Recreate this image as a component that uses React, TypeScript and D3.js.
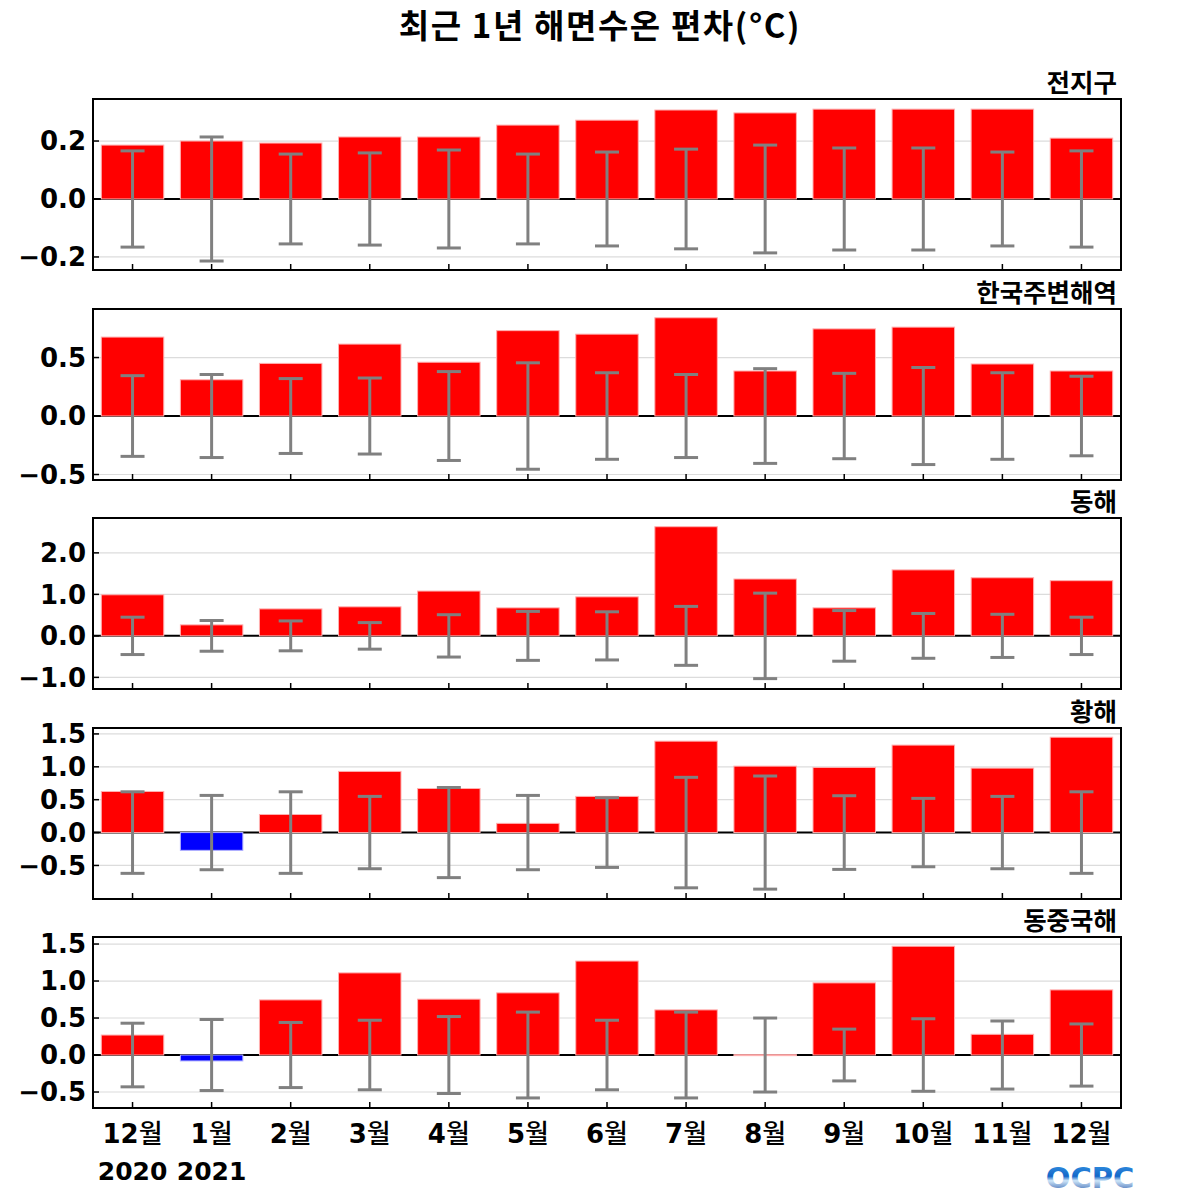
import React from 'react';
import * as d3 from 'd3';

const months = ['12월', '1월', '2월', '3월', '4월', '5월', '6월', '7월', '8월', '9월', '10월', '11월', '12월'];
const years = ['2020', '2021'];

const regionNames = ['전지구', '한국주변해역', '동해', '황해', '동중국해'];

const globalVals = [0.186, 0.2, 0.193, 0.214, 0.214, 0.255, 0.272, 0.307, 0.297, 0.31, 0.31, 0.31, 0.21];
const globalStd = [0.166, 0.214, 0.155, 0.159, 0.169, 0.155, 0.162, 0.172, 0.186, 0.176, 0.176, 0.162, 0.166];

const koreaVals = [0.675, 0.31, 0.45, 0.615, 0.46, 0.73, 0.7, 0.84, 0.385, 0.745, 0.76, 0.445, 0.385];
const koreaStd = [0.345, 0.355, 0.32, 0.325, 0.38, 0.455, 0.37, 0.355, 0.405, 0.365, 0.415, 0.37, 0.34];

const eastVals = [0.99, 0.265, 0.65, 0.7, 1.08, 0.675, 0.94, 2.63, 1.37, 0.675, 1.59, 1.4, 1.33];
const eastStd = [0.45, 0.37, 0.36, 0.32, 0.51, 0.59, 0.58, 0.71, 1.03, 0.61, 0.54, 0.52, 0.45];

const yellowVals = [0.625, -0.27, 0.275, 0.93, 0.67, 0.14, 0.55, 1.39, 1.01, 0.99, 1.33, 0.98, 1.45];
const yellowStd = [0.62, 0.565, 0.62, 0.55, 0.685, 0.565, 0.53, 0.84, 0.86, 0.56, 0.52, 0.55, 0.62];

const ecsVals = [0.27, -0.08, 0.745, 1.11, 0.755, 0.84, 1.27, 0.61, 0.005, 0.975, 1.47, 0.28, 0.88];
const ecsStd = [0.43, 0.48, 0.44, 0.47, 0.52, 0.58, 0.47, 0.58, 0.5, 0.35, 0.49, 0.46, 0.42];

const domains: [number, number][] = [
  [-0.245, 0.345],
  [-0.547, 0.915],
  [-1.28, 2.84],
  [-1.01, 1.59],
  [-0.716, 1.595],
];
const tickSets = [
  [-0.2, 0, 0.2],
  [-0.5, 0, 0.5],
  [-1, 0, 1, 2],
  [-0.5, 0, 0.5, 1, 1.5],
  [-0.5, 0, 0.5, 1, 1.5],
];

const panels = [
  { vals: globalVals, std: globalStd },
  { vals: koreaVals, std: koreaStd },
  { vals: eastVals, std: eastStd },
  { vals: yellowVals, std: yellowStd },
  { vals: ecsVals, std: ecsStd },
];

const W = 1200;
const H = 1200;
const left = 93;
const right = 1121;
const panelTops = [99, 309, 518, 728, 937];
const panelH = 171;
const font = "'DejaVu Sans', 'Noto Sans CJK KR', sans-serif";
const kfont = "'Noto Sans CJK KR', 'DejaVu Sans', sans-serif";

const fmt = (v: number) => (v < 0 ? '\u2212' : '') + d3.format('.1f')(Math.abs(v));

const x = d3.scaleBand<number>().domain(d3.range(months.length)).range([left, right]).paddingInner(0.21).paddingOuter(0.105);

const Panel: React.FC<{ idx: number }> = ({ idx }) => {
  const top = panelTops[idx];
  const bottom = top + panelH;
  const y = d3.scaleLinear().domain(domains[idx]).range([bottom, top]);
  const { vals, std } = panels[idx];
  const bw = x.bandwidth();
  const cx = (i: number) => x(i)! + bw / 2;
  return (
    <g>
      {tickSets[idx].map((t) => (
        <g key={t}>
          {t !== 0 && <line x1={left} x2={right} y1={y(t)} y2={y(t)} stroke="#dcdcdc" strokeWidth={1.2} />}
          <line x1={left} x2={left + 6} y1={y(t)} y2={y(t)} stroke="#000" strokeWidth={1.5} />
          <text x={86} y={y(t)} dy="0.36em" textAnchor="end" fontFamily={font} fontWeight="bold" fontSize={26}>
            {fmt(t)}
          </text>
        </g>
      ))}
      <line x1={left} x2={right} y1={y(0)} y2={y(0)} stroke="#000" strokeWidth={2} />
      {vals.map((v, i) => (
        <rect
          key={i}
          x={x(i)}
          y={Math.min(y(v), y(0))}
          width={bw}
          height={Math.max(Math.abs(y(v) - y(0)), 1)}
          fill={v >= 0 ? '#ff0000' : '#0000ff'}
          stroke={v >= 0 ? '#ffb0b0' : '#b0b0ff'}
          strokeWidth={1}
        />
      ))}
      {std.map((s, i) => (
        <g key={i} stroke="#808080" strokeWidth={3}>
          <line x1={cx(i)} x2={cx(i)} y1={y(s)} y2={y(-s)} />
          <line x1={cx(i) - 12} x2={cx(i) + 12} y1={y(s)} y2={y(s)} />
          <line x1={cx(i) - 12} x2={cx(i) + 12} y1={y(-s)} y2={y(-s)} />
        </g>
      ))}
      {months.map((m, i) => (
        <line key={i} x1={cx(i)} x2={cx(i)} y1={bottom} y2={bottom - 6} stroke="#000" strokeWidth={1.5} />
      ))}
      <rect x={left} y={top} width={right - left} height={panelH} fill="none" stroke="#000" strokeWidth={2} />
      <text x={1117} y={top - 7} textAnchor="end" fontFamily={kfont} fontWeight="bold" fontSize={25.5}>
        {regionNames[idx]}
      </text>
    </g>
  );
};

const App: React.FC = () => {
  const cx = (i: number) => x(i)! + x.bandwidth() / 2;
  return (
    <svg width={W} height={H} style={{ display: 'block', position: 'absolute', left: 0, top: 0 }}>
      <defs>
        <linearGradient id="logoGrad" x1="0" y1="0" x2="0" y2="1">
          <stop offset="0" stopColor="#3a9be6" />
          <stop offset="0.45" stopColor="#1466c8" />
          <stop offset="0.58" stopColor="#cfe6f8" />
          <stop offset="1" stopColor="#0a3f9c" />
        </linearGradient>
      </defs>
      <rect width={W} height={H} fill="#fff" />
      <text x={600} y={38} textAnchor="middle" fontFamily={kfont} fontWeight="bold" fontSize={33} letterSpacing={1.6}>
        {'최근 1년 해면수온 편차(\u00B0C)'}
      </text>
      {months.map((m, i) => (
        <text key={i} x={cx(i)} y={1143} textAnchor="middle" fontFamily={font} fontWeight="bold" fontSize={26}>
          {m.replace('월', '')}
          <tspan fontFamily={kfont} fontWeight="500">월</tspan>
        </text>
      ))}
      {panels.map((_, i) => (
        <Panel key={i} idx={i} />
      ))}
      {years.map((yr, i) => (
        <text key={yr} x={cx(i)} y={1180} textAnchor="middle" fontFamily={font} fontWeight="bold" fontSize={25}>
          {yr}
        </text>
      ))}
      <text x={1090} y={1188} textAnchor="middle" fontFamily={font} fontWeight="bold" fontSize={29} fill="url(#logoGrad)">
        OCPC
      </text>
    </svg>
  );
};

export default App;
